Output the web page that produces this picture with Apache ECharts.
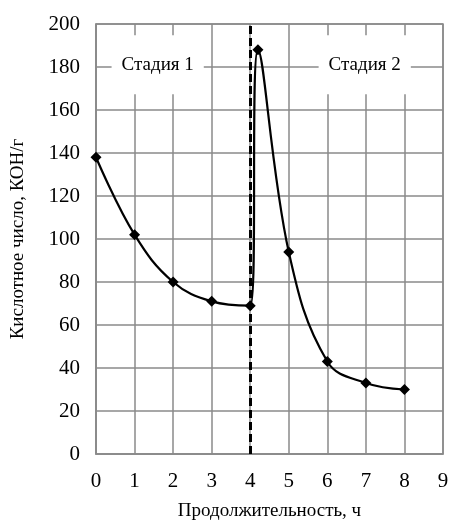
<!DOCTYPE html>
<html>
<head>
<meta charset="utf-8">
<script src="https://cdn.jsdelivr.net/npm/echarts@6/dist/echarts.min.js"></script>
<style>
  html, body { margin: 0; padding: 0; background: #fff; }
  #chart { width: 451px; height: 520px; }
</style>
</head>
<body>
<div id="chart"></div>
<script>
// данные
const hours = [0, 1, 2, 3, 4, 4.2, 5, 6, 7, 8]
const acidValues = [138, 102, 80, 71, 69, 188, 94, 43, 33, 30]
const stageBorder = 4
const stageLabels = [
  { text: 'Стадия 1', x: 1.6, y: 181 },
  { text: 'Стадия 2', x: 6.97, y: 181 }
]

const font = '"Liberation Serif", "Times New Roman", serif'
const gridColor = '#8a8a8a'

const chart = echarts.init(document.getElementById('chart'))

const option = {
  animation: false,
  grid: {
    left: 96,
    right: 8,
    top: 24,
    bottom: 66,
    outerBoundsMode: 'none',
    show: true,
    borderColor: gridColor,
    borderWidth: 1.5
  },
  xAxis: {
    type: 'value',
    min: 0,
    max: 9,
    interval: 1,
    name: 'Продолжительность, ч',
    nameLocation: 'middle',
    nameGap: 48,
    nameTextStyle: { fontFamily: font, fontSize: 19, color: '#000' },
    axisLine: { lineStyle: { color: gridColor, width: 1.5 } },
    axisTick: { show: false },
    axisLabel: { fontFamily: font, fontSize: 21, color: '#000', margin: 17 },
    splitLine: { lineStyle: { color: gridColor, width: 1.5 } }
  },
  yAxis: {
    type: 'value',
    min: 0,
    max: 200,
    interval: 20,
    name: 'Кислотное число, КОН/г',
    nameLocation: 'middle',
    nameGap: 68,
    nameTextStyle: { fontFamily: font, fontSize: 19, color: '#000' },
    axisLine: { show: true, lineStyle: { color: gridColor, width: 1.5 } },
    axisTick: { show: false },
    axisLabel: { fontFamily: font, fontSize: 21, color: '#000', margin: 16 },
    splitLine: { lineStyle: { color: gridColor, width: 1.5 } }
  },
  series: [
    {
      type: 'line',
      data: hours.map((h, i) => [h, acidValues[i]]),
      smooth: 0.4,
      symbol: 'diamond',
      symbolSize: 11,
      lineStyle: { color: '#000', width: 2.2 },
      itemStyle: { color: '#000' },
      z: 5,
      markLine: {
        silent: true,
        symbol: 'none',
        label: { show: false },
        lineStyle: { color: '#000', type: [8, 4], width: 3 },
        data: [{ xAxis: stageBorder }]
      }
    }
  ]
}

chart.setOption(option)

// подписи стадий с белой подложкой
const labelGraphics = stageLabels.map(s => {
  const p = chart.convertToPixel({ gridIndex: 0 }, [s.x, s.y])
  return {
    type: 'text',
    x: p[0],
    y: p[1],
    z: 10,
    style: {
      text: s.text,
      align: 'center',
      verticalAlign: 'middle',
      fontFamily: font,
      fontSize: 19,
      fill: '#000',
      backgroundColor: '#fff',
      padding: [20, 10]
    }
  }
})

chart.setOption({ graphic: labelGraphics })
</script>
</body>
</html>
